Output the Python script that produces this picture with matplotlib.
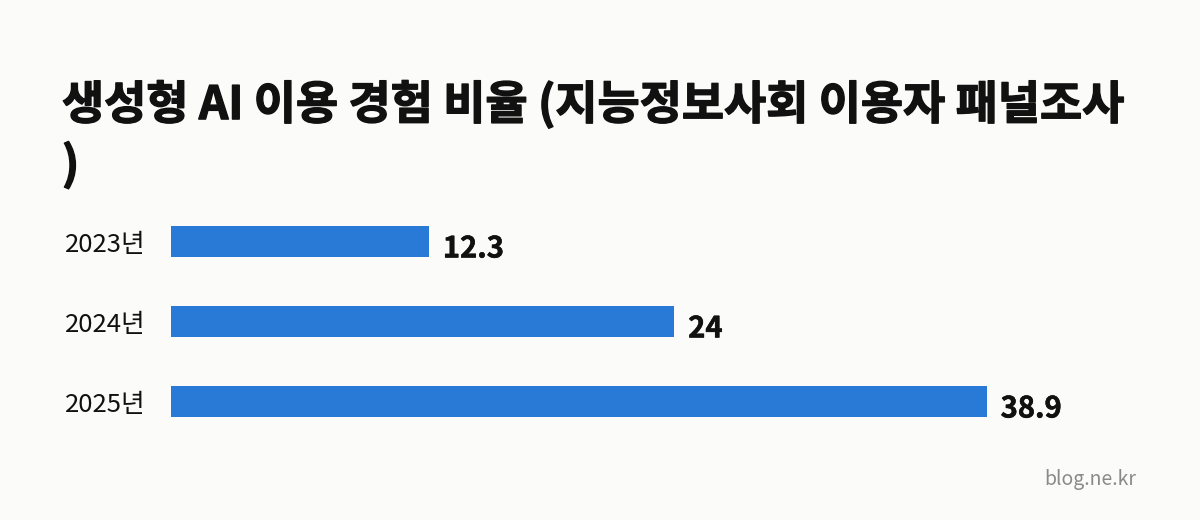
import matplotlib
matplotlib.use("Agg")
import matplotlib.pyplot as plt
import matplotlib.patheffects as pe

plt.rcParams['font.family'] = ['Noto Sans CJK KR', 'DejaVu Sans']

# data
years = ['2023년', '2024년', '2025년']
values = [12.3, 24, 38.9]
value_labels = ['12.3', '24', '38.9']

title = '생성형 AI 이용 경험 비율 (지능정보사회 이용자 패널조사\n)'
bg = '#fbfbf9'
bar_color = '#2979d6'
ink = '#111111'

fig = plt.figure(figsize=(12, 5.2), dpi=100, facecolor=bg)
# axes: left at 171px, width 1000px, top at 201.5px, height 240px
ax = fig.add_axes([171/1200, 1 - 441.5/520, 1000/1200, 240/520])
ax.set_facecolor(bg)

ax.barh(range(len(years)), values, height=0.39, color=bar_color)
ax.set_xlim(0, 1000/20.97)
ax.set_ylim(2.5, -0.5)

for i, (v, lab) in enumerate(zip(values, value_labels)):
    ax.annotate(lab, (v, i), xytext=(10, -5), textcoords='offset points',
                ha='left', va='center', fontsize=21, fontweight='bold',
                color=ink,
                path_effects=[pe.withStroke(linewidth=0.4, foreground=ink)])

ax.set_yticks(range(len(years)))
ax.set_yticklabels(years, fontsize=18.5, color=ink)
ax.tick_params(axis='y', length=0, pad=18)
ax.set_xticks([])
for s in ax.spines.values():
    s.set_visible(False)

fig.text(62/1200, 1 - 81/520, title, ha='left', va='top', fontsize=33,
         fontweight='bold', color=ink, linespacing=1.37,
         path_effects=[pe.withStroke(linewidth=1.0, foreground=ink)])

fig.text(1136/1200, 1 - 480/520, 'blog.ne.kr', ha='right', va='center',
         fontsize=14, color='#8a8a8a')

fig.savefig('out.png', dpi=100, facecolor=bg)
